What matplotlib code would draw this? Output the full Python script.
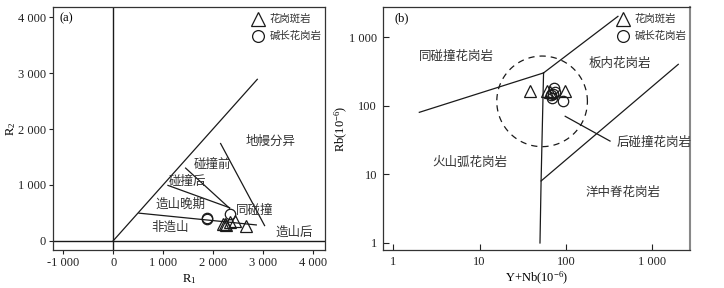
import matplotlib
matplotlib.use("Agg")
import matplotlib.pyplot as plt
import numpy as np
from matplotlib.ticker import FixedLocator, FuncFormatter, NullLocator

plt.rcParams['font.family'] = ['Liberation Serif', 'Noto Sans CJK SC']
plt.rcParams['mathtext.fontset'] = 'custom'
plt.rcParams['mathtext.rm'] = 'Liberation Serif'
plt.rcParams['mathtext.it'] = 'Liberation Serif:italic'

# ---------------- data: panel (a) R1-R2 ----------------
a_tri_R1 = [2200, 2230, 2250, 2330, 2440, 2660]
a_tri_R2 = [290, 300, 280, 330, 350, 270]
a_cir_R1 = [1870, 1880, 2340]
a_cir_R2 = [400, 380, 470]
a_xticks = [-1000, 0, 1000, 2000, 3000, 4000]
a_yticks = [0, 1000, 2000, 3000, 4000]
# boundary lines (x list, y list)
a_lines = [
    ([0, 2880], [0, 2890]),
    ([2146, 3026], [1740, 270]),
    ([1446, 2326], [1300, 580]),
    ([1093, 2326], [990, 590]),
    ([513, 2860], [493, 282]),
]
a_labels = [
    ("地幔分异", 3150, 1775),
    ("碰撞前", 1990, 1350),
    ("碰撞后", 1480, 1060),
    ("造山晚期", 1346, 640),
    ("同碰撞", 2830, 540),
    ("非造山", 1140, 240),
    ("造山后", 3620, 140),
]

# ---------------- data: panel (b) Rb vs Y+Nb ----------------
b_tri_YNb = [38, 61, 66, 98]
b_tri_Rb = [163, 163, 160, 163]
b_cir_YNb = [73, 67, 69, 92, 70, 75]
b_cir_Rb = [183, 141, 131, 117, 150, 160]
b_ticks = [1, 10, 100, 1000]
b_lines = [
    ([2, 55], [80, 300]),
    ([55, 400], [300, 2000]),
    ([50, 51.5, 55], [1, 8, 300]),
    ([51.5, 2000], [8, 400]),
    ([98, 324], [70, 30.5]),
]
b_labels = [
    ("同碰撞花岗岩", 5.4, 510, 'center'),
    ("板内花岗岩", 424, 409, 'center'),
    ("后碰撞花岗岩", 387, 28.5, 'left'),
    ("火山弧花岗岩", 7.7, 14.5, 'center'),
    ("洋中脊花岗岩", 455, 5.4, 'center'),
]
b_circle_center = (52.9, 115.6)   # dashed outline
b_circle_radius_dec = (0.525, 0.660)

legend_names = ["花岗斑岩", "碱长花岗岩"]

def thousands(v, pos=None):
    v = int(round(v))
    s = f"{abs(v):,}".replace(",", " ")
    return ("-" if v < 0 else "") + s

LC = '#1a1a1a'
TC = '#333333'
fig = plt.figure(figsize=(7.24, 2.88), dpi=100)

# ---------- panel (a) ----------
ax = fig.add_axes([53/724, 38/288, 272/724, 243/288])
ax.set_xlim(-1206, 4234)
ax.set_ylim(-167, 4185)
ax.axhline(0, color=LC, lw=1.0)
ax.axvline(0, color=LC, lw=1.0)
for xs, ys in a_lines:
    ax.plot(xs, ys, color=LC, lw=0.9)
ax.plot(a_tri_R1, a_tri_R2, ls='none', marker='^', ms=8.5, mfc='none', mec=LC, mew=0.9)
ax.plot(a_cir_R1, a_cir_R2, ls='none', marker='o', ms=7.5, mfc='none', mec=LC, mew=0.9)
for t, x, y in a_labels:
    ax.text(x, y, t, fontsize=9, ha='center', va='center', color=TC)
ax.xaxis.set_major_locator(FixedLocator(a_xticks))
ax.yaxis.set_major_locator(FixedLocator(a_yticks))
ax.xaxis.set_major_formatter(FuncFormatter(thousands))
ax.yaxis.set_major_formatter(FuncFormatter(thousands))
ax.tick_params(direction='out', length=3, width=0.8, labelsize=9, pad=2, colors='#222')
ax.set_xlabel(r'$\mathrm{R}_{1}$', fontsize=9, labelpad=2)
ax.set_ylabel(r'$\mathrm{R}_{2}$', fontsize=9, labelpad=0)
ax.text(0.025, 0.955, "(a)", transform=ax.transAxes, fontsize=9, ha='left', va='center')
ax.plot([0.752], [0.951], transform=ax.transAxes, marker='^', ms=10, mfc='none', mec=LC, mew=0.9, clip_on=False)
ax.plot([0.752], [0.881], transform=ax.transAxes, marker='o', ms=8.5, mfc='none', mec=LC, mew=0.9, clip_on=False)
ax.text(0.795, 0.951, legend_names[0], transform=ax.transAxes, fontsize=7.5, va='center', ha='left', color=TC)
ax.text(0.795, 0.881, legend_names[1], transform=ax.transAxes, fontsize=7.5, va='center', ha='left', color=TC)
for s in ax.spines.values():
    s.set_linewidth(0.9)
    s.set_color('#333')

# ---------- panel (b) ----------
bx = fig.add_axes([382.7/724, 38/288, 307.3/724, 243/288])
bx.set_xscale('log')
bx.set_yscale('log')
bx.set_xlim(0.753, 2735)
bx.set_ylim(0.79, 2737)
for xs, ys in b_lines:
    bx.plot(xs, ys, color=LC, lw=0.9)
th = np.linspace(0, 2*np.pi, 200)
cx, cy = b_circle_center
rx, ry = b_circle_radius_dec
bx.plot(10**(np.log10(cx) + rx*np.cos(th)), 10**(np.log10(cy) + ry*np.sin(th)),
        color=LC, lw=0.9, ls=(0, (5, 4)))
bx.plot(b_tri_YNb, b_tri_Rb, ls='none', marker='^', ms=8.5, mfc='none', mec=LC, mew=0.9)
bx.plot(b_cir_YNb, b_cir_Rb, ls='none', marker='o', ms=7.5, mfc='none', mec=LC, mew=0.9)
for t, x, y, ha in b_labels:
    bx.text(x, y, t, fontsize=9, ha=ha, va='center', color=TC)
bx.xaxis.set_major_locator(FixedLocator(b_ticks))
bx.yaxis.set_major_locator(FixedLocator(b_ticks))
bx.xaxis.set_minor_locator(NullLocator())
bx.yaxis.set_minor_locator(NullLocator())
bx.xaxis.set_major_formatter(FuncFormatter(thousands))
bx.yaxis.set_major_formatter(FuncFormatter(thousands))
bx.tick_params(direction='in', length=4, width=0.8, labelsize=9, pad=4, colors='#222')
bx.set_xlabel(r'Y+Nb(10$^{-6}$)', fontsize=9, labelpad=2)
bx.set_ylabel(r'Rb(10$^{-6}$)', fontsize=9, labelpad=-1)
bx.text(0.04, 0.955, "(b)", transform=bx.transAxes, fontsize=9, ha='left', va='center')
bx.plot([0.783], [0.951], transform=bx.transAxes, marker='^', ms=10, mfc='none', mec=LC, mew=0.9, clip_on=False)
bx.plot([0.783], [0.881], transform=bx.transAxes, marker='o', ms=8.5, mfc='none', mec=LC, mew=0.9, clip_on=False)
bx.text(0.82, 0.951, legend_names[0], transform=bx.transAxes, fontsize=7.5, va='center', ha='left', color=TC)
bx.text(0.82, 0.881, legend_names[1], transform=bx.transAxes, fontsize=7.5, va='center', ha='left', color=TC)
for s in bx.spines.values():
    s.set_linewidth(0.9)
    s.set_color('#333')
bx.spines['right'].set_color('#888')
bx.spines['right'].set_linewidth(1.5)

fig.savefig("out.png", dpi=100)
